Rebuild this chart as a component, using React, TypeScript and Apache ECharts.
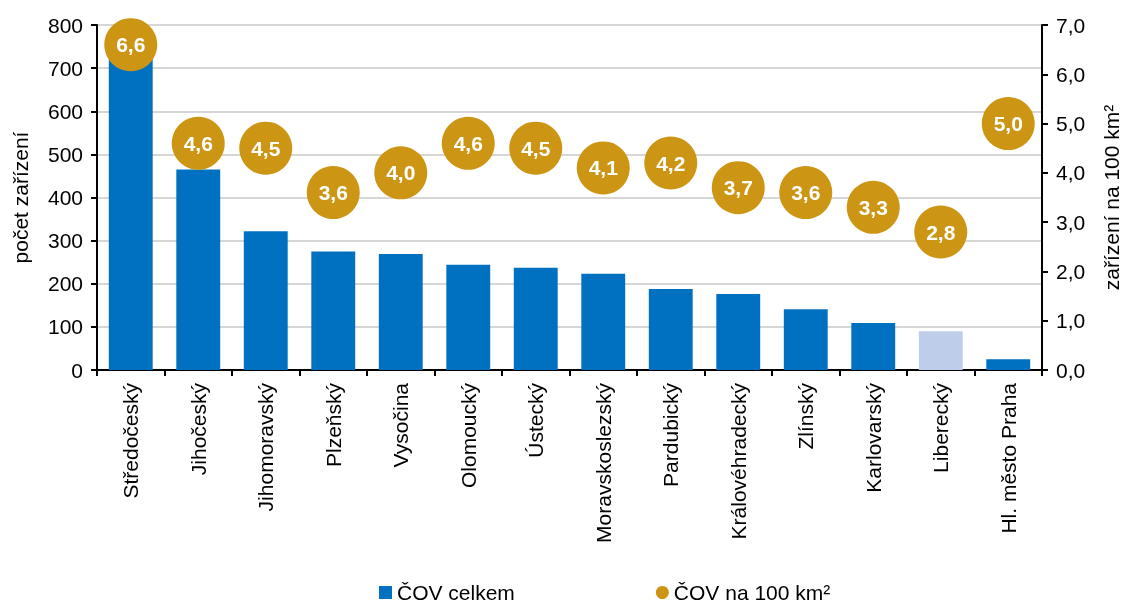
import React, { useEffect, useRef } from "react";
import * as echarts from "echarts";

const categories = [
  "Středočeský",
  "Jihočeský",
  "Jihomoravský",
  "Plzeňský",
  "Vysočina",
  "Olomoucký",
  "Ústecký",
  "Moravskoslezský",
  "Pardubický",
  "Královéhradecký",
  "Zlínský",
  "Karlovarský",
  "Liberecký",
  "Hl. město Praha",
];
const totalCounts = [740, 465, 322, 275, 269, 244, 237, 223, 188, 176, 141, 109, 90, 25];
const per100km2 = [6.6, 4.6, 4.5, 3.6, 4.0, 4.6, 4.5, 4.1, 4.2, 3.7, 3.6, 3.3, 2.8, 5.0];
const highlightIndex = 12;
const leftTicks = [0, 100, 200, 300, 400, 500, 600, 700, 800];
const rightTicks = [0, 1, 2, 3, 4, 5, 6, 7];

const BLUE = "#0070C0";
const LIGHT = "#BDCDEA";
const GOLD = "#CC9614";
const FONT = "Liberation Sans";
const FS = 21;

export default function App() {
  const ref = useRef<HTMLDivElement>(null);
  useEffect(() => {
    if (!ref.current) return;
    const chart = echarts.init(ref.current, undefined, { renderer: "svg" });
    chart.setOption({
      animation: false,
      textStyle: { fontFamily: FONT },
      grid: { left: 97, right: 83, top: 25, bottom: 238, outerBoundsMode: "none", containLabel: false },
      legend: {
        bottom: 0,
        left: 374,
        itemGap: 141,
        itemWidth: 13,
        itemHeight: 13,
        textStyle: { fontSize: FS, color: "#000", fontFamily: FONT },
        data: [
          { name: "ČOV celkem", icon: "rect", itemStyle: { color: BLUE } },
          { name: "ČOV na 100 km²", icon: "circle", itemStyle: { color: GOLD } },
        ],
      },
      xAxis: {
        type: "category",
        data: categories,
        axisLine: { lineStyle: { color: "#000", width: 2 } },
        axisTick: { show: true, length: 6, lineStyle: { color: "#000", width: 2 } },
        axisLabel: { rotate: 90, fontSize: FS, color: "#000", margin: 13, fontFamily: FONT },
      },
      yAxis: [
        {
          type: "value",
          min: leftTicks[0],
          max: leftTicks[leftTicks.length - 1],
          interval: 100,
          name: "počet zařízení",
          nameLocation: "middle",
          nameRotate: 90,
          nameGap: 66,
          nameTextStyle: { fontSize: FS, color: "#000", fontFamily: FONT },
          axisLine: { show: true, lineStyle: { color: "#000", width: 2 } },
          axisTick: { show: true, length: 6, lineStyle: { color: "#000", width: 2 } },
          axisLabel: { fontSize: FS, color: "#000", margin: 14, fontFamily: FONT },
          splitLine: { show: true, lineStyle: { color: "#C8C8C8", width: 1.5 } },
        },
        {
          type: "value",
          min: rightTicks[0],
          max: rightTicks[rightTicks.length - 1],
          interval: 1,
          position: "right",
          name: "zařízení na 100 km²",
          nameLocation: "middle",
          nameRotate: 90,
          nameGap: 59,
          nameTextStyle: { fontSize: FS, color: "#000", fontFamily: FONT },
          axisLine: { show: true, lineStyle: { color: "#000", width: 2 } },
          axisTick: { show: true, length: 6, lineStyle: { color: "#000", width: 2 } },
          axisLabel: {
            fontSize: FS,
            color: "#000",
            margin: 14,
            fontFamily: FONT,
            formatter: (v: number) => v.toFixed(1).replace(".", ","),
          },
          splitLine: { show: false },
        },
      ],
      series: [
        {
          name: "ČOV celkem",
          type: "bar",
          yAxisIndex: 0,
          barWidth: "65%",
          data: totalCounts.map((v, i) => ({
            value: v,
            itemStyle: { color: i === highlightIndex ? LIGHT : BLUE },
          })),
          itemStyle: { color: BLUE },
        },
        {
          name: "ČOV na 100 km²",
          type: "scatter",
          yAxisIndex: 1,
          symbol: "circle",
          symbolSize: 53,
          itemStyle: { color: GOLD, opacity: 1 },
          data: per100km2,
          label: {
            show: true,
            position: "inside",
            color: "#fff",
            fontWeight: "bold",
            fontSize: FS,
            fontFamily: FONT,
            formatter: (p: any) => Number(p.value).toFixed(1).replace(".", ","),
          },
          z: 5,
        },
      ],
    });
    return () => chart.dispose();
  }, []);
  return (
    <div
      ref={ref}
      style={{ position: "fixed", left: 0, top: 0, width: 1125, height: 608 }}
    />
  );
}
